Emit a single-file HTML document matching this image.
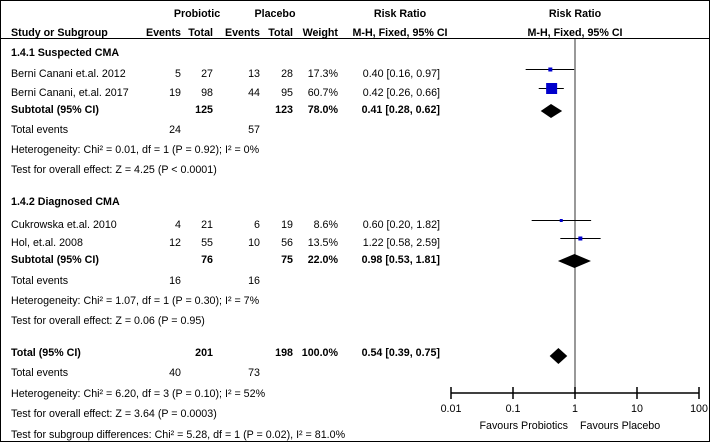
<!DOCTYPE html>
<html><head><meta charset="utf-8">
<style>
html,body{margin:0;padding:0;background:#fff;}
svg{display:block;font-family:"Liberation Sans",Arial,sans-serif;font-size:10.7px;}
.b{font-weight:bold;}
</style></head>
<body>
<svg id="chart" width="710" height="443" viewBox="0 0 710 443">
<rect x="0.5" y="0.5" width="709" height="441" fill="#fff" stroke="#000" stroke-width="1"/>
<line x1="0" y1="38.5" x2="710" y2="38.5" stroke="#000"/>
</svg>
<script>
const studies = ["Berni Canani et.al. 2012","Berni Canani, et.al. 2017","Cukrowska et.al. 2010","Hol, et.al. 2008"];
const probEvents = [5,19,4,12];
const probTotal = [27,98,21,55];
const placEvents = [13,44,6,10];
const placTotal = [28,95,19,56];
const weights = ["17.3%","60.7%","8.6%","13.5%"];
const rr = [0.40,0.42,0.60,1.22];
const rrLo = [0.16,0.26,0.20,0.58];
const rrHi = [0.97,0.66,1.82,2.59];
const rrText = ["0.40 [0.16, 0.97]","0.42 [0.26, 0.66]","0.60 [0.20, 1.82]","1.22 [0.58, 2.59]"];
const sqSize = [4,11,3,4];
const studyRowY = [73,92,224,242];
const subRR = [0.41,0.98,0.54];
const subLo = [0.28,0.53,0.39];
const subHi = [0.62,1.81,0.75];
const subRowY = [109,259,352];
const tickVals = [0.01,0.1,1,10,100];
const tickLabels = ["0.01","0.1","1","10","100"];

const svg = document.getElementById('chart');
const NS = 'http://www.w3.org/2000/svg';
const x0 = 451, x1 = 699;
function xs(v){ return x0 + (Math.log10(v) + 2) / 4 * (x1 - x0); }
function mk(tag, attrs){ const e = document.createElementNS(NS, tag); for (const k in attrs) e.setAttribute(k, attrs[k]); svg.appendChild(e); return e; }
function txt(s, x, y, anchor, cls, name){
  const e = mk('text', {x:x, y:y+4, 'text-anchor':anchor||'start'});
  if (cls) e.setAttribute('class', cls);
  e.textContent = s;
  
  
  return e;
}
txt("Probiotic",197,13,'middle','b','probiotic-header');
txt("Placebo",275,13,'middle','b','placebo-header');
txt("Risk Ratio",400,13,'middle','b','risk-ratio-header');
txt("Risk Ratio",575,13,'middle','b','risk-ratio-plot-header');
txt("Study or Subgroup",11,32,'start','b','study-header');
txt("Events",181,32,'end','b','probiotic-events-header');
txt("Total",213,32,'end','b','probiotic-total-header');
txt("Events",260,32,'end','b','placebo-events-header');
txt("Total",293,32,'end','b','placebo-total-header');
txt("Weight",338,32,'end','b','weight-header');
txt("M-H, Fixed, 95% CI",400,32,'middle','b','method-header');
txt("M-H, Fixed, 95% CI",575,32,'middle','b','method-plot-header');

const vl = mk('line',{x1:xs(1),x2:xs(1),y1:39,y2:393,stroke:'#555','stroke-width':1.2});



txt("1.4.1 Suspected CMA",11,52,'start','b','subgroup-1-title');
txt("1.4.2 Diagnosed CMA",11,201,'start','b','subgroup-2-title');

for (let i = 0; i < studies.length; i++){
  const y = studyRowY[i];
  txt(studies[i],11,y,'start',null,'study-name');
  txt(String(probEvents[i]),181,y,'end',null,'probiotic-events');
  txt(String(probTotal[i]),213,y,'end',null,'probiotic-total');
  txt(String(placEvents[i]),260,y,'end',null,'placebo-events');
  txt(String(placTotal[i]),293,y,'end',null,'placebo-total');
  txt(weights[i],338,y,'end',null,'weight');
  txt(rrText[i],440,y,'end',null,'risk-ratio-value');
  const my = y - 3.5;
  const ci = mk('line',{x1:xs(rrLo[i]),x2:xs(rrHi[i]),y1:my,y2:my,stroke:'#000','stroke-width':1});
  
  
  const s = sqSize[i];
  const sq = mk('rect',{x:xs(rr[i])-s/2,y:my-s/2,width:s,height:s,fill:'#0000cc'});
  
  
}

const subLabels = ["Subtotal (95% CI)","Subtotal (95% CI)","Total (95% CI)"];
const subPT = ["125","76","201"], subCT = ["123","75","198"], subW = ["78.0%","22.0%","100.0%"];
const subText = ["0.41 [0.28, 0.62]","0.98 [0.53, 1.81]","0.54 [0.39, 0.75]"];
const dh = [7,7,8];
for (let i = 0; i < 3; i++){
  const y = subRowY[i];
  txt(subLabels[i],11,y,'start','b','subtotal-label');
  txt(subPT[i],213,y,'end','b','subtotal-probiotic-total');
  txt(subCT[i],293,y,'end','b','subtotal-placebo-total');
  txt(subW[i],338,y,'end','b','subtotal-weight');
  txt(subText[i],440,y,'end','b','subtotal-risk-ratio');
  const my = y + 4 - (i===2?0:2);
  const d = mk('polygon',{points:`${xs(subLo[i])},${my} ${xs(subRR[i])},${my-dh[i]} ${xs(subHi[i])},${my} ${xs(subRR[i])},${my+dh[i]}`,fill:'#000'});
  
  
}

const extras = [
 ["Total events",129],["Heterogeneity: Chi² = 0.01, df = 1 (P = 0.92); I² = 0%",149],["Test for overall effect: Z = 4.25 (P < 0.0001)",169],
 ["Total events",280],["Heterogeneity: Chi² = 1.07, df = 1 (P = 0.30); I² = 7%",300],["Test for overall effect: Z = 0.06 (P = 0.95)",320],
 ["Total events",372],["Heterogeneity: Chi² = 6.20, df = 3 (P = 0.10); I² = 52%",393],["Test for overall effect: Z = 3.64 (P = 0.0003)",413],
 ["Test for subgroup differences: Chi² = 5.28, df = 1 (P = 0.02), I² = 81.0%",434]
];
extras.forEach(e => txt(e[0],11,e[1],'start',null,'summary-statistic'));
const teP = ["24","16","40"], teC = ["57","16","73"], teY = [129,280,372];
for (let i=0;i<3;i++){ txt(teP[i],181,teY[i],'end',null,'total-events-probiotic'); txt(teC[i],260,teY[i],'end',null,'total-events-placebo'); }

const ay = 393;
const ax = mk('line',{x1:x0,x2:x1,y1:ay,y2:ay,stroke:'#000','stroke-width':1.5});


tickVals.forEach((v,i)=>{
  const t = mk('line',{x1:xs(v),x2:xs(v),y1:ay-6,y2:ay+6,stroke:'#000','stroke-width':1.5});
  
  
  txt(tickLabels[i],xs(v),408,'middle',null,'x-axis-tick-label');
});
txt("Favours Probiotics",xs(1)-7,425,'end',null,'favours-probiotics-label');
txt("Favours Placebo",xs(1)+5,425,'start',null,'favours-placebo-label');
</script>
</body></html>
